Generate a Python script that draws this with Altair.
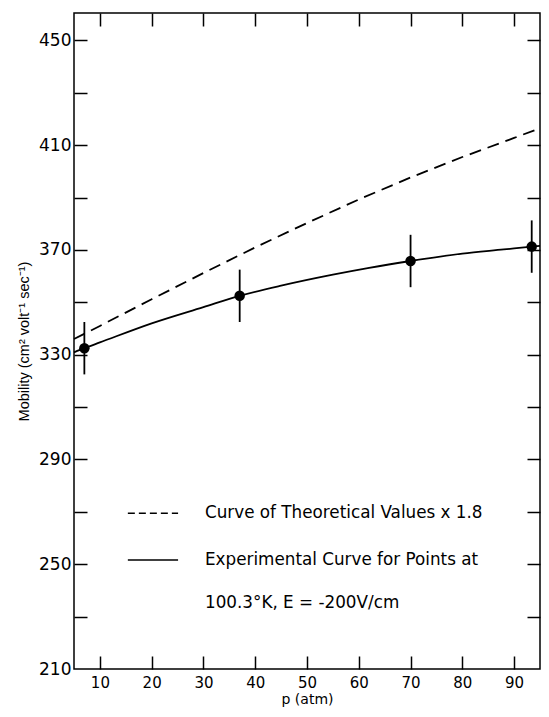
import altair as alt
import pandas as pd

# ---- data ----
p_points = [7, 37, 70, 93.4]
mob_points = [332.5, 352.5, 365.8, 371.3]
err_half = [10, 10, 10, 10]

p_theory = [5, 10, 20, 30, 40, 50, 60, 70, 80, 90, 95]
mob_theory = [336, 341, 351.2, 361.2, 371, 380.3, 389.3, 397.7, 405.5, 412.8, 416.5]

p_exp = [5, 7, 10, 20, 30, 37, 45, 55, 62, 70, 80, 88, 93.4, 95]
mob_exp = [330.9, 332.5, 334.7, 342, 348.2, 352.5, 356.4, 360.6, 363.2, 365.8, 368.6, 370.2, 371.3, 371.6]

x_ticks = [10, 20, 30, 40, 50, 60, 70, 80, 90]
y_labels = [210, 250, 290, 330, 370, 410, 450]
y_ticks = [230, 250, 270, 290, 310, 330, 350, 370, 390, 410, 430, 450]

# legend (annotation) content
leg_dash_p = [15.4, 25.1]
leg_dash_y = [269.5, 269.5]
leg_solid_p = [15.4, 25.1]
leg_solid_y = [251.6, 251.6]
leg_text = ["Curve of Theoretical Values  x 1.8",
            "Experimental Curve for Points at",
            "100.3°K, E = -200V/cm"]
leg_text_p = [30.3, 30.3, 30.3]
leg_text_y = [269.5, 251.6, 235.1]

W, H = 466, 656
X_DOM = [5, 95]
Y_DOM = [210, 460.5]

pts = pd.DataFrame({"p": p_points, "m": mob_points,
                    "lo": [m - e for m, e in zip(mob_points, err_half)],
                    "hi": [m + e for m, e in zip(mob_points, err_half)]})
theo = pd.DataFrame({"p": p_theory, "m": mob_theory})
expc = pd.DataFrame({"p": p_exp, "m": mob_exp})
ld = pd.DataFrame({"p": leg_dash_p, "m": leg_dash_y})
ls = pd.DataFrame({"p": leg_solid_p, "m": leg_solid_y})
lt = pd.DataFrame({"p": leg_text_p, "m": leg_text_y, "t": leg_text})

xs = alt.Scale(domain=X_DOM, nice=False, zero=False)
ys = alt.Scale(domain=Y_DOM, nice=False, zero=False)

FONT = "DejaVu Sans"

ax_x_main = alt.Axis(values=x_ticks, ticks=False, domain=False, grid=False,
                     labelFont=FONT, labelFontSize=15, labelColor="black",
                     labelPadding=6, title="p (atm)", titleFont=FONT,
                     titleFontSize=14, titleFontWeight="normal",
                     titleColor="black", titlePadding=2)
ax_y_main = alt.Axis(values=y_labels, ticks=False, domain=False, grid=False,
                     labelFont=FONT, labelFontSize=17, labelColor="black",
                     labelPadding=3, title="Mobility (cm² volt⁻¹ sec⁻¹)",
                     titleFont="Liberation Sans", titleFontSize=14.5,
                     titleFontWeight="normal", titleColor="black",
                     titlePadding=7)


def tick_axis(orient, vals, offset):
    return alt.Axis(orient=orient, offset=offset, values=vals, labels=False,
                    domain=False, grid=False, ticks=True, tickSize=13,
                    tickWidth=1.5, tickColor="black", title="")


l_theo = alt.Chart(theo).mark_line(color="black", strokeWidth=1.8,
                                   strokeDash=[12, 7]).encode(
    x=alt.X("p:Q", scale=xs, axis=ax_x_main),
    y=alt.Y("m:Q", scale=ys, axis=ax_y_main),
)

l_exp = alt.Chart(expc).mark_line(color="black", strokeWidth=1.8,
                                  interpolate="monotone").encode(
    x=alt.X("p:Q", scale=xs, axis=tick_axis("top", x_ticks, -H)),
    y=alt.Y("m:Q", scale=ys, axis=tick_axis("right", y_ticks, -W)),
)

l_pts = alt.Chart(pts).mark_circle(color="black", opacity=1, size=110).encode(
    x=alt.X("p:Q", scale=xs, axis=tick_axis("bottom", x_ticks, -H)),
    y=alt.Y("m:Q", scale=ys, axis=tick_axis("left", y_ticks, -W)),
)

l_err = alt.Chart(pts).mark_rule(color="black", strokeWidth=1.8).encode(
    x=alt.X("p:Q", scale=xs, axis=None),
    y=alt.Y("lo:Q", scale=ys, axis=None),
    y2="hi:Q",
)

l_ld = alt.Chart(ld).mark_line(color="black", strokeWidth=1.5,
                               strokeDash=[7, 4]).encode(
    x=alt.X("p:Q", scale=xs, axis=None),
    y=alt.Y("m:Q", scale=ys, axis=None),
)
l_ls = alt.Chart(ls).mark_line(color="black", strokeWidth=1.5).encode(
    x=alt.X("p:Q", scale=xs, axis=None),
    y=alt.Y("m:Q", scale=ys, axis=None),
)
l_lt = alt.Chart(lt).mark_text(align="left", baseline="middle", font=FONT,
                               fontSize=16.8, color="black").encode(
    x=alt.X("p:Q", scale=xs, axis=None),
    y=alt.Y("m:Q", scale=ys, axis=None),
    text="t:N",
)

chart = alt.layer(l_theo, l_exp, l_pts, l_err, l_ld, l_ls, l_lt).resolve_axis(
    x="independent", y="independent"
).properties(
    width=W, height=H,
    autosize=alt.AutoSizeParams(type="none"),
    padding={"left": 66, "top": 5, "right": 1, "bottom": 39},
    background="white",
).configure_view(stroke="black", strokeWidth=1.5)

chart.save("out.html", embed_options={"renderer": "svg", "actions": False})
